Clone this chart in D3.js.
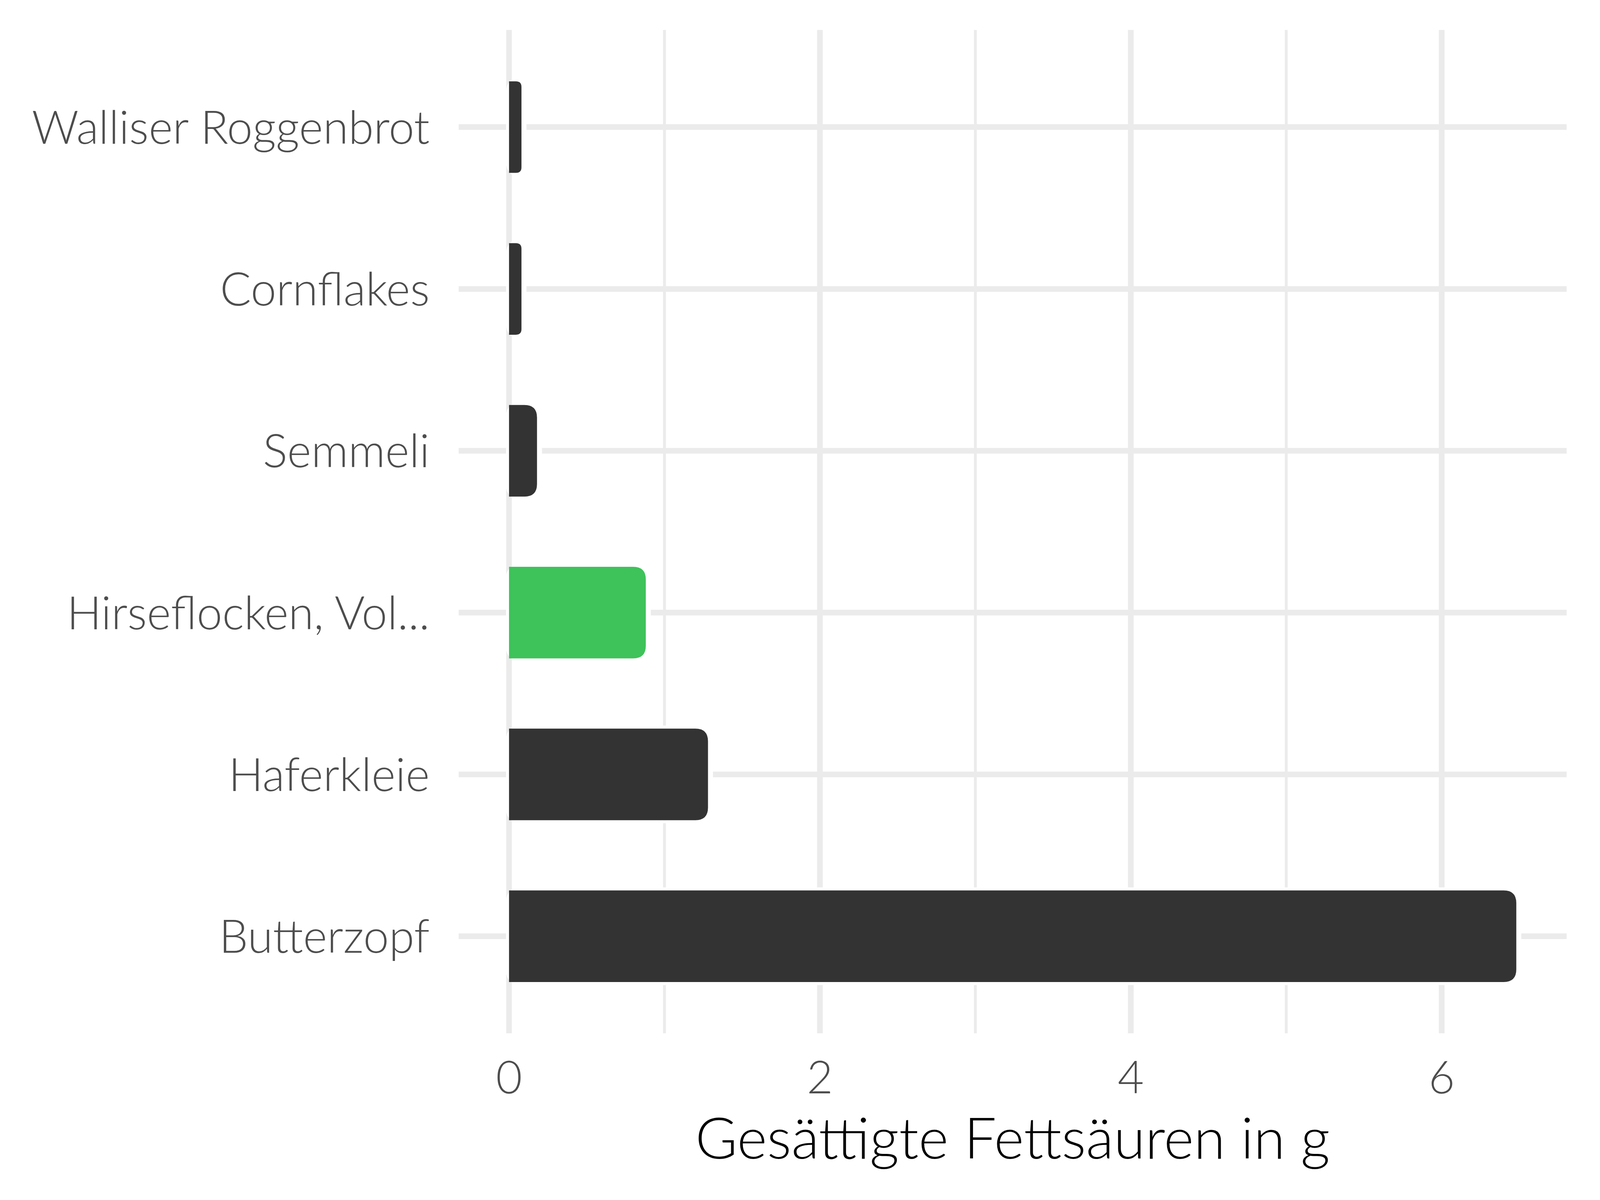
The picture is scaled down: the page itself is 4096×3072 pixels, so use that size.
<!DOCTYPE html>
<html><head><meta charset="utf-8">
<script src="https://cdn.jsdelivr.net/npm/d3@7"></script>
<style>html,body{margin:0;padding:0;background:#fff;}</style>
</head><body>
<script>
const categories = ["Walliser Roggenbrot","Cornflakes","Semmeli","Hirseflocken, Vol...","Haferkleie","Butterzopf"];
const values = [0.08, 0.08, 0.18, 0.88, 1.28, 6.48];
const highlight = [false, false, false, true, false, false];
const xTicks = [0, 2, 4, 6];
const xMinor = [1, 3, 5];
const xTitle = "Gesättigte Fettsäuren in g";

const W = 4800, H = 3600, S = 4096 / 4800;
const svg = d3.select("body").append("svg").attr("width", 4096).attr("height", 3072);
svg.append("rect").attr("width", 4096).attr("height", 3072).attr("fill", "#fff");
const g = svg.append("g").attr("transform", `scale(${S})`);

const panel = {left: 1376, right: 4700, top: 90, bottom: 3100};
const maxV = d3.max(values);
const ext = maxV * 0.05;
const x = d3.scaleLinear().domain([-ext, maxV + ext]).range([panel.left, panel.right]);
const y = d3.scaleBand().domain(categories).range([panel.top, panel.bottom]).paddingOuter(0.1).paddingInner(0);
const step = y.step();
const barH = step * 0.566;
const font = "Lato, 'Open Sans', sans-serif";

// grid
g.selectAll(".minor").data(xMinor).join("line")
  .attr("x1", d => x(d)).attr("x2", d => x(d)).attr("y1", panel.top).attr("y2", panel.bottom)
  .attr("stroke", "#EBEBEB").attr("stroke-width", 8.5);
g.selectAll(".major").data(xTicks).join("line")
  .attr("x1", d => x(d)).attr("x2", d => x(d)).attr("y1", panel.top).attr("y2", panel.bottom)
  .attr("stroke", "#EBEBEB").attr("stroke-width", 17);
g.selectAll(".hgrid").data(categories).join("line")
  .attr("x1", panel.left).attr("x2", panel.right)
  .attr("y1", d => y(d) + step / 2).attr("y2", d => y(d) + step / 2)
  .attr("stroke", "#EBEBEB").attr("stroke-width", 17);

// bars
function barPath(x0, x1, y0, y1, r) {
  return `M${x0},${y0} L${x1 - r},${y0} Q${x1},${y0} ${x1},${y0 + r} L${x1},${y1 - r} Q${x1},${y1} ${x1 - r},${y1} L${x0},${y1} Z`;
}
const bars = g.selectAll(".bar").data(categories).join("g");
bars.append("rect")
  .attr("x", (d, i) => x(0) - 9).attr("y", d => y(d) + step / 2 - barH / 2 - 9)
  .attr("width", (d, i) => x(values[i]) - x(0) + 24).attr("height", barH + 18)
  .attr("rx", 40).attr("fill", "#fff");
bars.append("path")
  .attr("d", (d, i) => {
    const x0 = x(0), x1 = x(values[i]);
    const y0 = y(d) + step / 2 - barH / 2, y1 = y0 + barH;
    const r = Math.min(38, (x1 - x0) * 0.45);
    return barPath(x0, x1, y0, y1, r);
  })
  .attr("fill", (d, i) => highlight[i] ? "#3EC25A" : "#333333");

// y labels
g.selectAll(".ylab").data(categories).join("text")
  .attr("x", 1289).attr("y", d => y(d) + step / 2)
  .attr("dy", "0.36em").attr("text-anchor", "end")
  .attr("font-family", font).attr("font-weight", 300).attr("font-size", 138)
  .attr("fill", "#4D4D4D").text(d => d);

// x tick labels
g.selectAll(".xlab").data(xTicks).join("text")
  .attr("x", d => x(d)).attr("y", 3280)
  .attr("text-anchor", "middle")
  .attr("font-family", font).attr("font-weight", 300).attr("font-size", 136)
  .attr("fill", "#4D4D4D").text(d => d);

// x title
g.append("text").attr("x", (panel.left + panel.right) / 2).attr("y", 3476)
  .attr("text-anchor", "middle")
  .attr("font-family", font).attr("font-weight", 300).attr("font-size", 172)
  .attr("fill", "#000").text(xTitle);
</script>
</body></html>
